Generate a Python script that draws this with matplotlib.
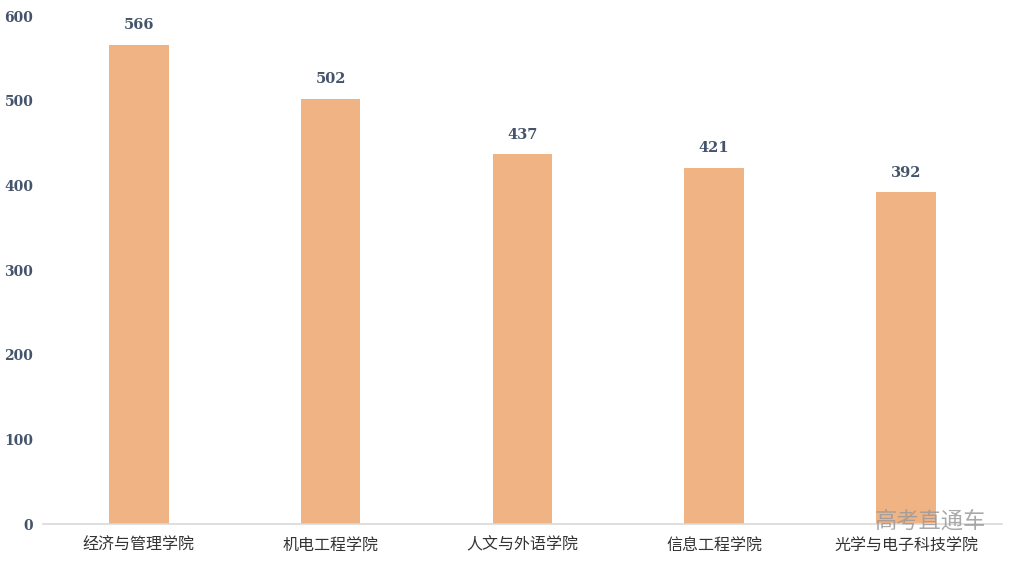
import matplotlib
matplotlib.use('Agg')
import matplotlib.pyplot as plt

plt.rcParams['font.family'] = ['Noto Sans CJK SC', 'DejaVu Sans']

colleges = ['经济与管理学院', '机电工程学院', '人文与外语学院', '信息工程学院', '光学与电子科技学院']
counts = [566, 502, 437, 421, 392]
yticks = [0, 100, 200, 300, 400, 500, 600]

bar_color = '#F0B383'
text_color = '#44546A'

fig = plt.figure(figsize=(10.12, 5.62), dpi=100)
ax = fig.add_axes([0.0425, 0.0676, 0.9475, 0.9039])

x = range(len(colleges))
bars = ax.bar(x, counts, width=0.31, color=bar_color, zorder=2)

for rect, v in zip(bars, counts):
    ax.annotate(str(v), (rect.get_x() + rect.get_width() / 2, v),
                xytext=(0, 9), textcoords='offset points',
                ha='center', va='bottom', fontsize=10.5, fontweight='bold',
                family='DejaVu Serif', color=text_color)

ax.set_xlim(-0.5, len(colleges) - 0.5)
ax.set_ylim(0, 600)
ax.set_yticks(yticks)
ax.set_yticklabels([str(t) for t in yticks], family='DejaVu Serif',
                   fontweight='bold', fontsize=10, color=text_color)
ax.set_xticks(list(x))
ax.set_xticklabels(colleges, fontsize=11.5, color='#333333')
ax.tick_params(axis='both', length=0)
ax.tick_params(axis='y', pad=7)
ax.tick_params(axis='x', pad=9)

for s in ['top', 'right', 'left']:
    ax.spines[s].set_visible(False)
ax.spines['bottom'].set_color('#D9D9D9')
ax.spines['bottom'].set_linewidth(1.2)

fig.text(0.974, 0.073, '高考直通车', ha='right', va='center', fontsize=16,
         color='#9a9a9a', alpha=0.85, fontweight='light')

plt.savefig('out.png', dpi=100)
